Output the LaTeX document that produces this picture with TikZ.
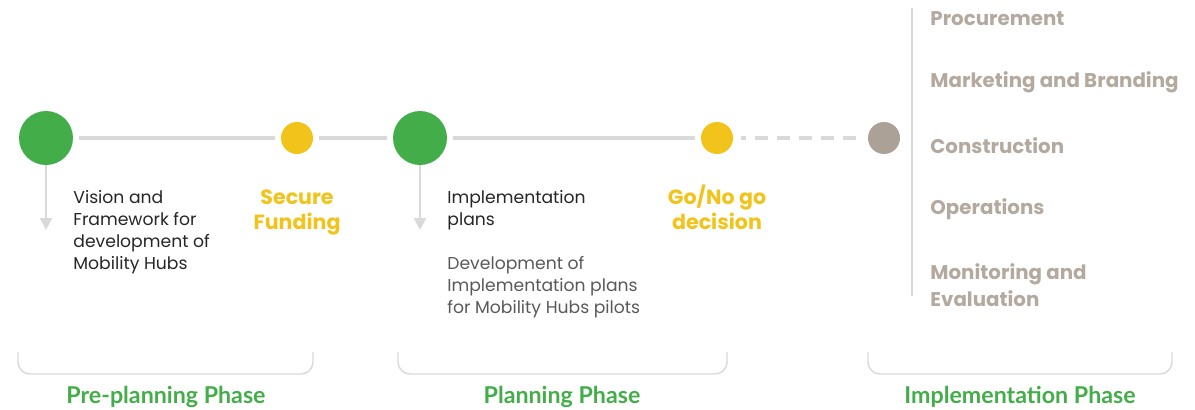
\documentclass[tikz,border=0pt]{standalone}
\usepackage{fontspec}
\setmainfont{Poppins}
\newfontfamily\phasefont{Lato}
\usetikzlibrary{arrows.meta,positioning}

\definecolor{hubgreen}{HTML}{43AD49}
\definecolor{hubyellow}{HTML}{F2C31A}
\definecolor{hubtaupe}{HTML}{ABA197}
\definecolor{hubtext}{HTML}{B3A99F}
\definecolor{hubline}{HTML}{D9D9D9}

\begin{document}
\begin{tikzpicture}[x=0.5pt,y=-0.5pt,
    milestone/.style={circle,fill=hubgreen,minimum size=27pt,inner sep=0pt},
    gate/.style={circle,fill=hubyellow,minimum size=16pt,inner sep=0pt},
    later/.style={circle,fill=hubtaupe,minimum size=16pt,inner sep=0pt},
    link/.style={draw=hubline,line width=2pt,shorten >=3pt,shorten <=3pt},
    down/.style={draw=hubline,line width=1.2pt,-{Triangle[width=6pt,length=6pt]}},
    txt/.style={align=left,inner sep=0pt,anchor=north west,font=\fontsize{8.6}{11}\selectfont,text=black!85},
    desc/.style={txt,text=black!65},
    gatetxt/.style={align=center,inner sep=0pt,anchor=north,text=hubyellow,font=\fontsize{10.3}{12.5}\selectfont\bfseries},
    task/.style={inner sep=0pt,anchor=west,text=hubtext,font=\fontsize{9.9}{13.5}\selectfont\bfseries,align=left},
    phase/.style={text=hubgreen,font=\phasefont\fontsize{11.6}{13}\selectfont\bfseries},
    brace/.style={draw=hubline,line width=0.7pt,rounded corners=6pt}]
  \useasboundingbox (0,0) rectangle (1195,409);

  % timeline
  \node[milestone] (g1) at (46,138) {};
  \node[gate]      (y1) at (297,138) {};
  \node[milestone] (g2) at (420,138) {};
  \node[gate]      (y2) at (717,138) {};
  \node[later]     (c3) at (884,138) {};

  \path[link] (g1) -- (y1);
  \path[link] (y1) -- (g2);
  \path[link] (g2) -- (y2);
  \path[link,line width=1.6pt,shorten <=4pt,dash pattern=on 6.5pt off 4.5pt,dash phase=4pt] (y2) -- (c3);

  \coordinate (a1) at (46,230);
  \coordinate (a2) at (420,230);
  \path[down] (g1) -- (a1);
  \path[down] (g2) -- (a2);

  % labels under the timeline
  \node[txt] (vision) at (73,190) {Vision and\\Framework for\\development of\\Mobility Hubs};
  \node[gatetxt] (fund) at (297,189) {Secure\\Funding};
  \node[txt] (plans) at (447,190) {Implementation\\plans};
  \node[desc] (dev) at (447,256) {Development of\\Implementation plans\\for Mobility Hubs pilots};
  \node[gatetxt] (go) at (717,185) {Go/No go\\decision};

  % implementation tasks
  \coordinate (top) at (912,8);
  \coordinate (bot) at (912,296);
  \draw[hubline,line width=1pt] (top) -- (bot);
  \node[task] (t1) at (930,19) {Procurement};
  \node[task] (t2) at (930,82) {Marketing and Branding};
  \node[task] (t3) at (930,146) {Construction};
  \node[task] (t4) at (930,209) {Operations};
  \node[task] (t5) at (930,285) {Monitoring and\\Evaluation};

  % phases
  \draw[brace] (18,352) -- (18,374) -- (313,374) -- (313,352);
  \draw[brace] (398,352) -- (398,374) -- (727,374) -- (727,352);
  \draw[brace] (868,352) -- (868,374) -- (1172,374) -- (1172,352);
  \node[phase] (p1) at (166,397) {Pre-planning Phase};
  \node[phase] (p2) at (562,397) {Planning Phase};
  \node[phase] (p3) at (1020,397) {Implementation Phase};
\end{tikzpicture}
\end{document}
